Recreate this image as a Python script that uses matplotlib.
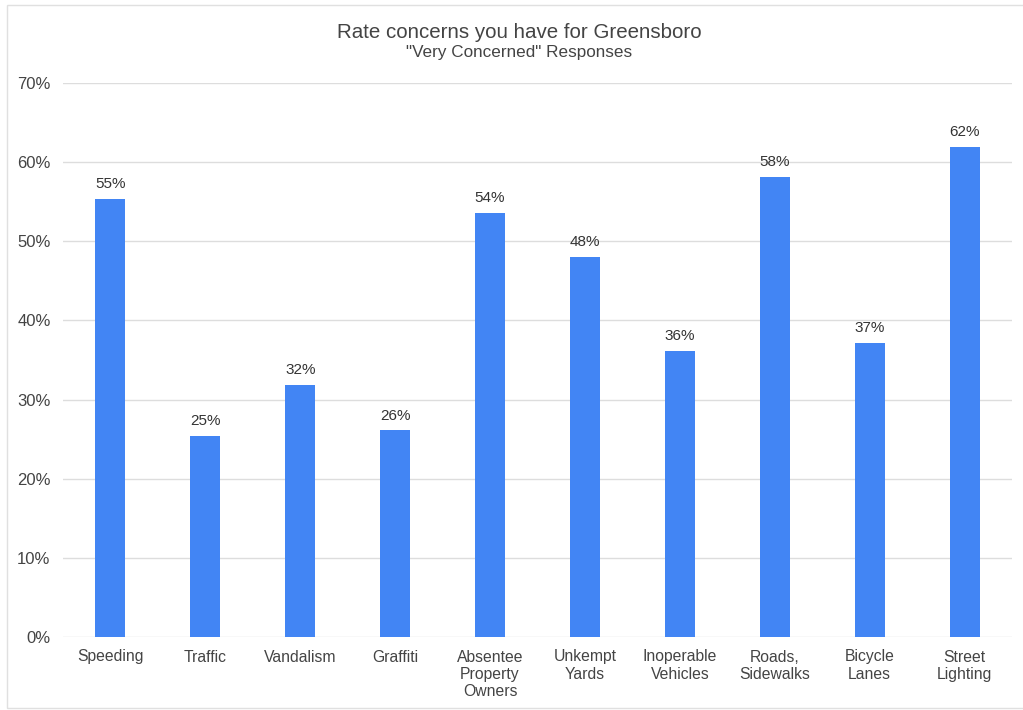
import matplotlib.pyplot as plt
from matplotlib.patches import Rectangle

categories = ["Speeding", "Traffic", "Vandalism", "Graffiti",
              "Absentee\nProperty\nOwners", "Unkempt\nYards", "Inoperable\nVehicles",
              "Roads,\nSidewalks", "Bicycle\nLanes", "Street\nLighting"]
values = [55.4, 25.4, 31.9, 26.1, 53.6, 48.0, 36.1, 58.1, 37.1, 61.9]
yticks = [0, 10, 20, 30, 40, 50, 60, 70]

plt.rcParams['font.family'] = ['Liberation Sans', 'DejaVu Sans']
text_color = "#444444"

fig = plt.figure(figsize=(10.23, 7.10), dpi=100)
ax = fig.add_axes([63 / 1023, 1 - 637 / 710, 949 / 1023, 554 / 710])

x = range(len(categories))
ax.bar(x, values, width=0.316, color="#4285F4", zorder=3)
for xi, v in zip(x, values):
    ax.text(xi, v + 1.0, f"{round(v)}%", ha="center", va="bottom",
            fontsize=11, color="#333333")

ax.set_xlim(-0.5, len(categories) - 0.5)
ax.set_ylim(0, 70)
ax.set_yticks(yticks)
ax.set_yticklabels([f"{t}%" for t in yticks], fontsize=12, color=text_color)
ax.set_xticks(list(x))
ax.set_xticklabels(categories, fontsize=11.3, color=text_color, linespacing=1.2)
ax.tick_params(axis="both", length=0)
ax.tick_params(axis="y", pad=9)
ax.tick_params(axis="x", pad=9)
ax.grid(axis="y", color="#dddddd", linewidth=1, zorder=0)
for s in ax.spines.values():
    s.set_visible(False)

fig.text(519 / 1023, 1 - 32 / 710, "Rate concerns you have for Greensboro",
         ha="center", va="center", fontsize=14.8, color=text_color)
fig.text(519 / 1023, 1 - 53 / 710, "\"Very Concerned\" Responses",
         ha="center", va="center", fontsize=12.3, color=text_color)

fig.patches.append(Rectangle((7 / 1023, 1 - 708 / 710), 1020 / 1023, 703 / 710,
                             transform=fig.transFigure, fill=False,
                             edgecolor="#e0e0e0", linewidth=1))

fig.savefig("out.png", dpi=100)
